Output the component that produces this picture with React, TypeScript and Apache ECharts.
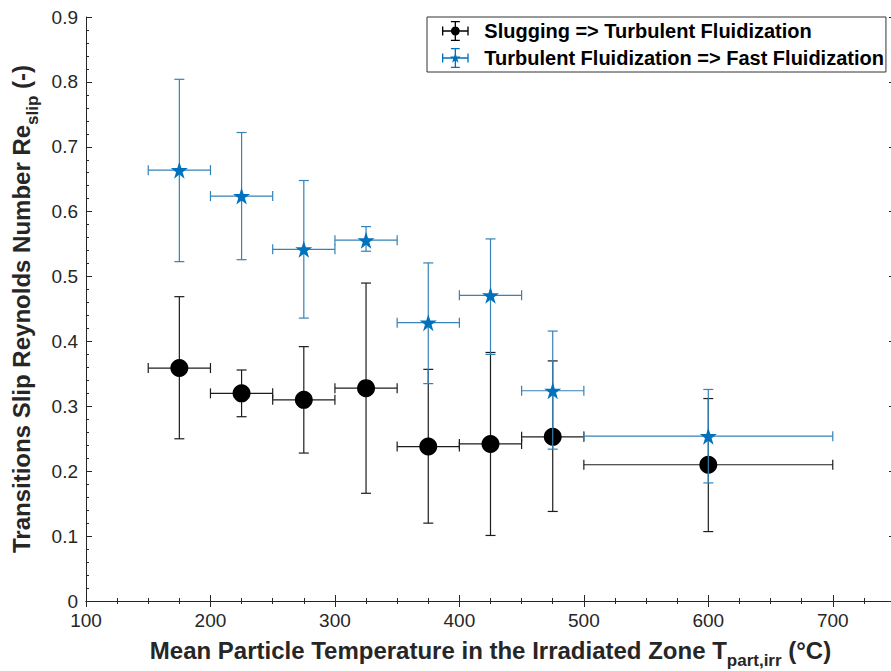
import React, { useEffect, useRef } from "react";
import * as echarts from "echarts";

// Mean particle temperature per class and class bounds (°C)
const temps = [175, 225, 275, 325, 375, 425, 475, 600];
const tempLow = [150, 200, 250, 300, 350, 400, 450, 500];
const tempHigh = [200, 250, 300, 350, 400, 450, 500, 700];

// Slugging => Turbulent fluidization transition
const slugging = [0.359, 0.32, 0.31, 0.328, 0.238, 0.242, 0.253, 0.21];
const sluggingLow = [0.25, 0.284, 0.228, 0.166, 0.12, 0.101, 0.138, 0.107];
const sluggingHigh = [0.469, 0.356, 0.392, 0.49, 0.357, 0.383, 0.37, 0.312];

// Turbulent fluidization => Fast fluidization transition
const turbulent = [0.664, 0.624, 0.542, 0.556, 0.429, 0.471, 0.324, 0.254];
const turbulentLow = [0.523, 0.526, 0.436, 0.539, 0.335, 0.38, 0.234, 0.182];
const turbulentHigh = [0.804, 0.722, 0.648, 0.577, 0.521, 0.558, 0.416, 0.326];

const xTicks = [100, 200, 300, 400, 500, 600, 700];
const yTicks = [0, 0.1, 0.2, 0.3, 0.4, 0.5, 0.6, 0.7, 0.8, 0.9];

const NAME_SLUG = "Slugging => Turbulent Fluidization";
const NAME_TURB = "Turbulent Fluidization => Fast Fluidization";

const BLACK = "#000000";
const BLUE = "#0072BD";
const BLUE_BAR = "#3582b6";
const AXIS = "#262626";
const FONT = "'Liberation Sans', Arial, sans-serif";

const STAR =
  "path://M50,0 L61.8,35.1 L98.9,35.1 L68.9,57.4 L80.3,92.7 L50,70.8 L19.7,92.7 L31.1,57.4 L1.1,35.1 L38.2,35.1 Z";

// legend glyph: error-bar cross with the marker in the middle (all sub-paths clockwise)
const CROSS =
  "M2 9.4H26V10.6H2Z M2 6H3.2V14H2Z M24.8 6H26V14H24.8Z M13.4 1H14.6V19H13.4Z M10 1H18V2.2H10Z M10 17.8H18V19H10Z";
const ICON_SLUG = "path://" + CROSS + " M10 10A4 4 0 1 1 18 10A4 4 0 1 1 10 10Z";
const ICON_TURB =
  "path://" +
  CROSS +
  " M14 5.3 L15.2 8.6 L18.7 8.6 L15.9 10.8 L16.9 14.2 L14 12.1 L11.1 14.2 L12.1 10.8 L9.3 8.6 L12.8 8.6 Z";

const errorRows = (mid: number[], lo: number[], hi: number[]) =>
  temps.map((t, i) => [t, mid[i], tempLow[i], tempHigh[i], lo[i], hi[i]]);

const errorRenderer = (color: string) => (_params: any, api: any) => {
  const x = api.value(0);
  const y = api.value(1);
  const c = api.coord([x, y]);
  const xl = api.coord([api.value(2), y]);
  const xh = api.coord([api.value(3), y]);
  const yl = api.coord([x, api.value(4)]);
  const yh = api.coord([x, api.value(5)]);
  const cap = 5;
  const style = { stroke: color, lineWidth: 1.2 };
  const seg = (x1: number, y1: number, x2: number, y2: number) => ({
    type: "line",
    shape: { x1, y1, x2, y2 },
    style,
  });
  return {
    type: "group",
    children: [
      seg(c[0], yl[1], c[0], yh[1]),
      seg(c[0] - cap, yl[1], c[0] + cap, yl[1]),
      seg(c[0] - cap, yh[1], c[0] + cap, yh[1]),
      seg(xl[0], c[1], xh[0], c[1]),
      seg(xl[0], c[1] - cap, xl[0], c[1] + cap),
      seg(xh[0], c[1] - cap, xh[0], c[1] + cap),
    ],
  };
};

export default function App() {
  const ref = useRef<HTMLDivElement>(null);

  useEffect(() => {
    if (!ref.current) return;
    const chart = echarts.init(ref.current, undefined, { renderer: "svg" });

    const tickLabel = { color: AXIS, fontSize: 19, lineHeight: 17, fontFamily: FONT };
    const frame = {
      axisLine: { show: true, lineStyle: { color: AXIS, width: 1 } },
      axisTick: { show: true, inside: true, length: 6, lineStyle: { color: AXIS } },
      minorTick: { show: true, length: 3, lineStyle: { color: AXIS } },
      splitLine: { show: false },
    };
    const titleRich = {
      m: { fontSize: 24, fontWeight: "bold", fontFamily: FONT, color: "#262626", lineHeight: 27, verticalAlign: "top" },
      s: { fontSize: 17, fontWeight: "bold", fontFamily: FONT, color: "#262626", lineHeight: 27, padding: [14, 0, 0, 0], verticalAlign: "top" },
    };

    chart.setOption({
      animation: false,
      backgroundColor: "#ffffff",
      grid: { left: 86, width: 809, top: 17, bottom: 70, containLabel: false, outerBoundsMode: "none" },
      legend: {
        data: [
          { name: NAME_SLUG, icon: ICON_SLUG },
          { name: NAME_TURB, icon: ICON_TURB },
        ],
        orient: "vertical",
        left: 427,
        top: 17,
        itemWidth: 28,
        itemHeight: 20,
        itemGap: 7,
        padding: [4, 2, 4, 15],
        borderColor: "#333333",
        borderWidth: 1,
        backgroundColor: "#ffffff",
        selectedMode: false,
        textStyle: { color: "#000", fontSize: 20, fontWeight: "bold", fontFamily: FONT, padding: [0, 0, 0, 10] },
      },
      xAxis: [
        {
          type: "value",
          min: 100,
          max: 750,
          interval: 100,
          ...frame,
          minorTick: { ...frame.minorTick, splitNumber: 4 },
          axisLabel: {
            ...tickLabel,
            margin: 11,
            formatter: (v: number) => (xTicks.includes(v) ? String(v) : ""),
          },
          name: "{m|Mean Particle Temperature in the Irradiated Zone T}{s|part,irr}{m| (°C)}",
          nameLocation: "middle",
          nameGap: 37,
          nameTextStyle: { rich: titleRich },
        },
        {
          type: "value",
          position: "top",
          min: 100,
          max: 750,
          interval: 100,
          ...frame,
          minorTick: { ...frame.minorTick, splitNumber: 4 },
          axisLabel: { show: false },
        },
      ],
      yAxis: [
        {
          type: "value",
          min: 0,
          max: 0.9,
          interval: 0.1,
          ...frame,
          minorTick: { ...frame.minorTick, splitNumber: 5 },
          axisLabel: {
            ...tickLabel,
            margin: 8,
            formatter: (v: number) => {
              const t = yTicks.find((k) => Math.abs(k - v) < 1e-9);
              return t === undefined ? "" : String(t);
            },
          },
          name: "{m|Transitions Slip Reynolds Number Re}{s|slip}{m| (-)}",
          nameLocation: "middle",
          nameGap: 44,
          nameTextStyle: { rich: titleRich },
        },
        {
          type: "value",
          position: "right",
          min: 0,
          max: 0.9,
          interval: 0.1,
          ...frame,
          minorTick: { ...frame.minorTick, splitNumber: 5 },
          axisLabel: { show: false },
        },
      ],
      series: [
        {
          type: "custom",
          renderItem: errorRenderer("#1c1c1c"),
          data: errorRows(slugging, sluggingLow, sluggingHigh),
          encode: { x: [0, 2, 3], y: [1, 4, 5] },
          silent: true,
          z: 2,
        },
        {
          name: NAME_SLUG,
          type: "scatter",
          symbol: "circle",
          symbolSize: 18,
          itemStyle: { color: BLACK, opacity: 1 },
          data: temps.map((t, i) => [t, slugging[i]]),
          z: 3,
        },
        {
          type: "custom",
          renderItem: errorRenderer(BLUE_BAR),
          data: errorRows(turbulent, turbulentLow, turbulentHigh),
          encode: { x: [0, 2, 3], y: [1, 4, 5] },
          silent: true,
          z: 4,
        },
        {
          name: NAME_TURB,
          type: "scatter",
          symbol: STAR,
          symbolSize: 17,
          itemStyle: { color: BLUE, opacity: 1 },
          data: temps.map((t, i) => [t, turbulent[i]]),
          z: 5,
        },
      ],
    });

    return () => chart.dispose();
  }, []);

  return <div ref={ref} style={{ width: 891, height: 671, position: "absolute", left: 0, top: 0 }} />;
}
